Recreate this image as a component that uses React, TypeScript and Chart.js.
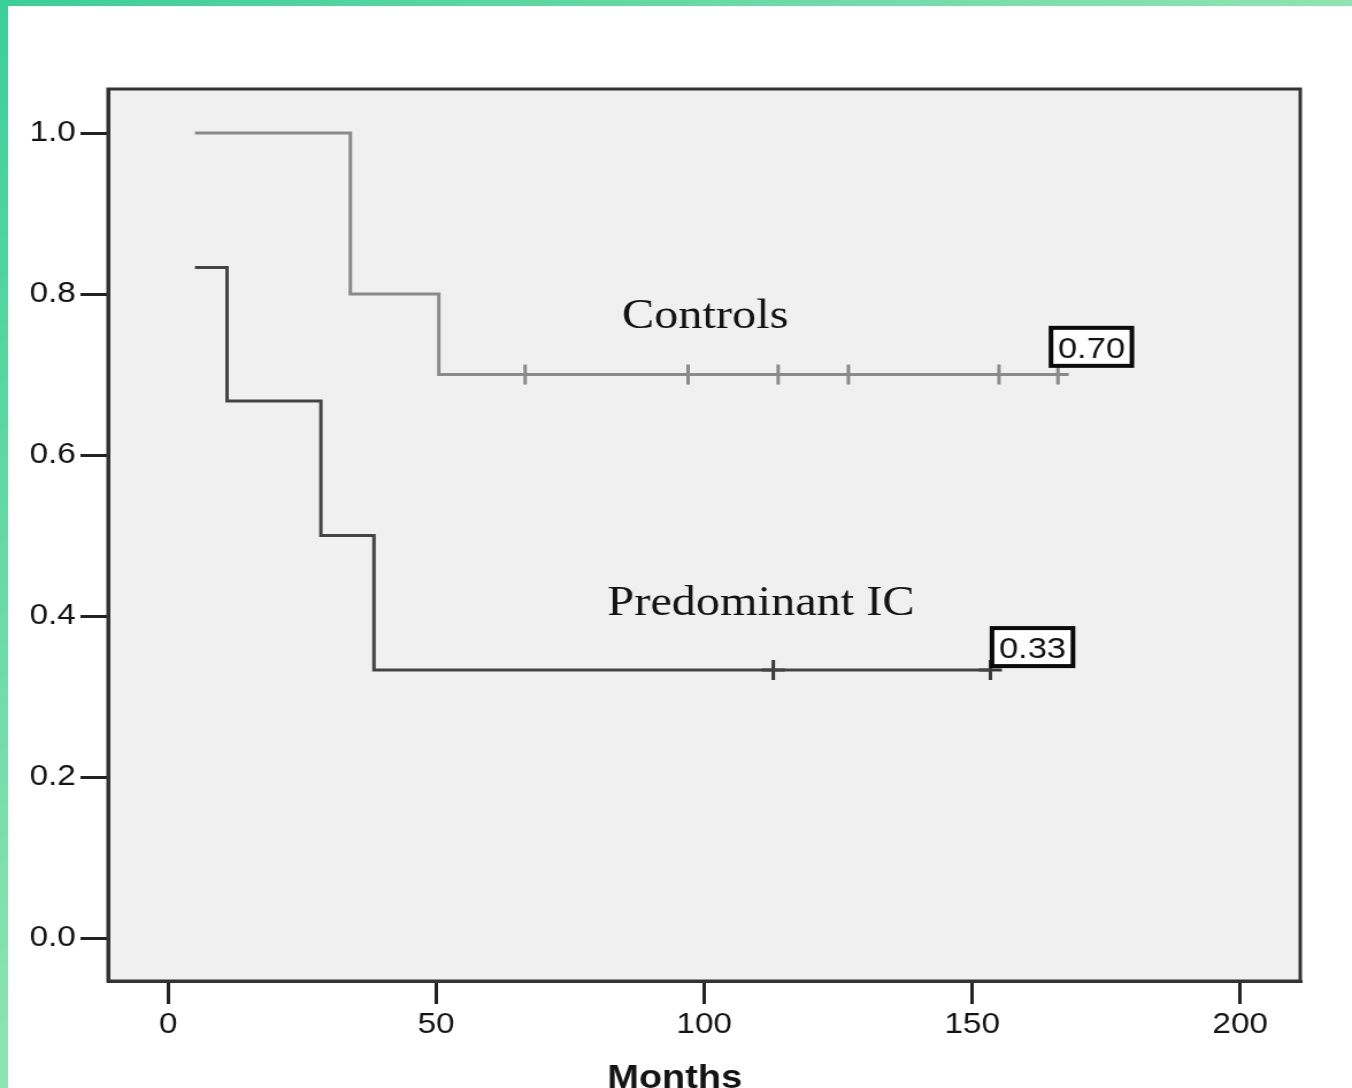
import React, { useEffect, useRef } from 'react';
import { Chart, registerables } from 'chart.js';

Chart.register(...registerables);

// ---- Data (Kaplan-Meier curves) ----
const controlsTimes = [5, 34, 50.5, 168];
const controlsSurvival = [1.0, 0.8, 0.7, 0.7];
const controlsCensoredTimes = [66.6, 97, 113.8, 126.9, 155, 166];
const controlsCensoredSurvival = [0.7, 0.7, 0.7, 0.7, 0.7, 0.7];

const icTimes = [5, 11, 28.5, 38.4, 153.4];
const icSurvival = [0.833, 0.667, 0.5, 0.333, 0.333];
const icCensoredTimes = [112.9, 153.4];
const icCensoredSurvival = [0.333, 0.333];

const xTicks = [0, 50, 100, 150, 200];
const yTicks = [0, 0.2, 0.4, 0.6, 0.8, 1.0];

const groupLabels = ['Controls', 'Predominant IC'];
const groupLabelX = [100.2, 110.6];
const groupLabelY = [0.7578, 0.4012];

const finalLabels = ['0.70', '0.33'];
const finalLabelX = [164.7, 153.7];
const finalLabelY = [0.758, 0.385];

const xTitle = 'Months';

const CANVAS_W = 1176;
const CANVAS_H = 1088;
const STRETCH = 1352 / CANVAS_W;

const frameAndTextPlugin = {
  id: 'frameAndText',
  beforeDraw(chart: any) {
    const { ctx, chartArea } = chart;
    ctx.save();
    ctx.fillStyle = '#f0f0f0';
    ctx.fillRect(chartArea.left, chartArea.top, chartArea.right - chartArea.left, chartArea.bottom - chartArea.top);
    ctx.restore();
  },
  afterDraw(chart: any) {
    const { ctx, chartArea, scales } = chart;
    const xs = scales.x;
    const ys = scales.y;
    ctx.save();
    // frame
    ctx.strokeStyle = '#333333';
    ctx.lineWidth = 3;
    ctx.strokeRect(chartArea.left, chartArea.top, chartArea.right - chartArea.left, chartArea.bottom - chartArea.top);

    // group labels
    ctx.fillStyle = '#141414';
    ctx.font = '42px "Liberation Serif", "Times New Roman", serif';
    ctx.textAlign = 'center';
    ctx.textBaseline = 'alphabetic';
    groupLabels.forEach((t, i) => {
      ctx.fillText(t, xs.getPixelForValue(groupLabelX[i]), ys.getPixelForValue(groupLabelY[i]));
    });

    // final value boxes
    ctx.font = '30px "Liberation Sans", Arial, sans-serif';
    ctx.textAlign = 'left';
    finalLabels.forEach((t, i) => {
      const left = xs.getPixelForValue(finalLabelX[i]);
      const top = ys.getPixelForValue(finalLabelY[i]);
      const w = ctx.measureText(t).width + 12;
      const h = 38;
      ctx.fillStyle = '#ffffff';
      ctx.fillRect(left, top, w, h);
      ctx.strokeStyle = '#0a0a0a';
      ctx.lineWidth = 4;
      ctx.strokeRect(left, top, w, h);
      ctx.fillStyle = '#141414';
      ctx.fillText(t, left + 6, top + 30);
    });

    // x axis title
    ctx.font = 'bold 33px "Liberation Sans", Arial, sans-serif';
    ctx.textAlign = 'center';
    ctx.fillStyle = '#141414';
    ctx.fillText(xTitle, xs.getPixelForValue(94.5), 1088);
    ctx.restore();
  },
};

export default function App() {
  const canvasRef = useRef<HTMLCanvasElement | null>(null);

  useEffect(() => {
    const canvas = canvasRef.current;
    if (!canvas) return;
    const tickFont = { family: '"Liberation Sans", Arial, sans-serif', size: 29 };
    const chart = new Chart(canvas, {
      type: 'line',
      data: {
        datasets: [
          {
            data: controlsTimes.map((t, i) => ({ x: t, y: controlsSurvival[i] })),
            stepped: 'before',
            borderColor: '#8a8a8a',
            borderWidth: 3,
            pointRadius: 0,
            fill: false,
            borderJoinStyle: 'miter',
          },
          {
            data: icTimes.map((t, i) => ({ x: t, y: icSurvival[i] })),
            stepped: 'before',
            borderColor: '#444444',
            borderWidth: 3,
            pointRadius: 0,
            fill: false,
            borderJoinStyle: 'miter',
          },
          {
            data: controlsCensoredTimes.map((t, i) => ({ x: t, y: controlsCensoredSurvival[i] })),
            showLine: false,
            pointStyle: 'line',
            rotation: 90,
            pointRadius: 10,
            pointBorderWidth: 3,
            pointBorderColor: '#8a8a8a',
            pointBackgroundColor: '#8a8a8a',
          },
          {
            data: icCensoredTimes.map((t, i) => ({ x: t, y: icCensoredSurvival[i] })),
            showLine: false,
            pointStyle: 'cross',
            pointRadius: 10,
            pointBorderWidth: 3,
            pointBorderColor: '#3a3a3a',
            pointBackgroundColor: '#3a3a3a',
          },
        ],
      } as any,
      options: {
        animation: false,
        responsive: false,
        devicePixelRatio: 1,
        layout: { padding: { top: 89, right: 45, left: 0, bottom: 0 } },
        plugins: { legend: { display: false }, tooltip: { enabled: false } },
        scales: {
          x: {
            type: 'linear',
            min: -11.2,
            max: 211.2,
            afterBuildTicks: (s: any) => {
              s.ticks = xTicks.map((v) => ({ value: v }));
            },
            afterFit: (s: any) => {
              s.height = 107;
            },
            grid: { drawOnChartArea: false, drawTicks: true, tickLength: 23, color: '#222222', lineWidth: 3 },
            border: { display: true, color: '#333333', width: 3 },
            ticks: {
              font: tickFont,
              color: '#141414',
              padding: 4,
              maxRotation: 0,
              callback: (v: any) => String(v),
            },
          },
          y: {
            type: 'linear',
            min: -0.0534,
            max: 1.0547,
            afterBuildTicks: (s: any) => {
              s.ticks = yTicks.map((v) => ({ value: v }));
            },
            afterFit: (s: any) => {
              s.width = 94;
            },
            grid: { drawOnChartArea: false, drawTicks: true, tickLength: 24, color: '#222222', lineWidth: 3 },
            border: { display: true, color: '#333333', width: 3 },
            ticks: {
              font: tickFont,
              color: '#141414',
              padding: 4,
              callback: (v: any) => Number(v).toFixed(1),
            },
          },
        },
      } as any,
      plugins: [frameAndTextPlugin],
    });
    return () => chart.destroy();
  }, []);

  return (
    <div
      style={{
        position: 'fixed',
        left: 0,
        top: 0,
        width: 1352,
        height: 1088,
        overflow: 'hidden',
        background: 'linear-gradient(to bottom right, #3bcf99 0%, #8fe4b1 50%, #b4f0c4 100%)',
      }}
    >
      <div style={{ position: 'absolute', left: 8, top: 6, right: 0, bottom: 0, background: '#ffffff' }} />
      <div
        style={{
          position: 'absolute',
          left: 0,
          top: 0,
          width: CANVAS_W,
          height: CANVAS_H,
          transform: `scaleX(${STRETCH})`,
          transformOrigin: '0 0',
        }}
      >
        <canvas
          ref={canvasRef}
          width={CANVAS_W}
          height={CANVAS_H}
          style={{ display: 'block', width: CANVAS_W, height: CANVAS_H }}
        />
      </div>
    </div>
  );
}
